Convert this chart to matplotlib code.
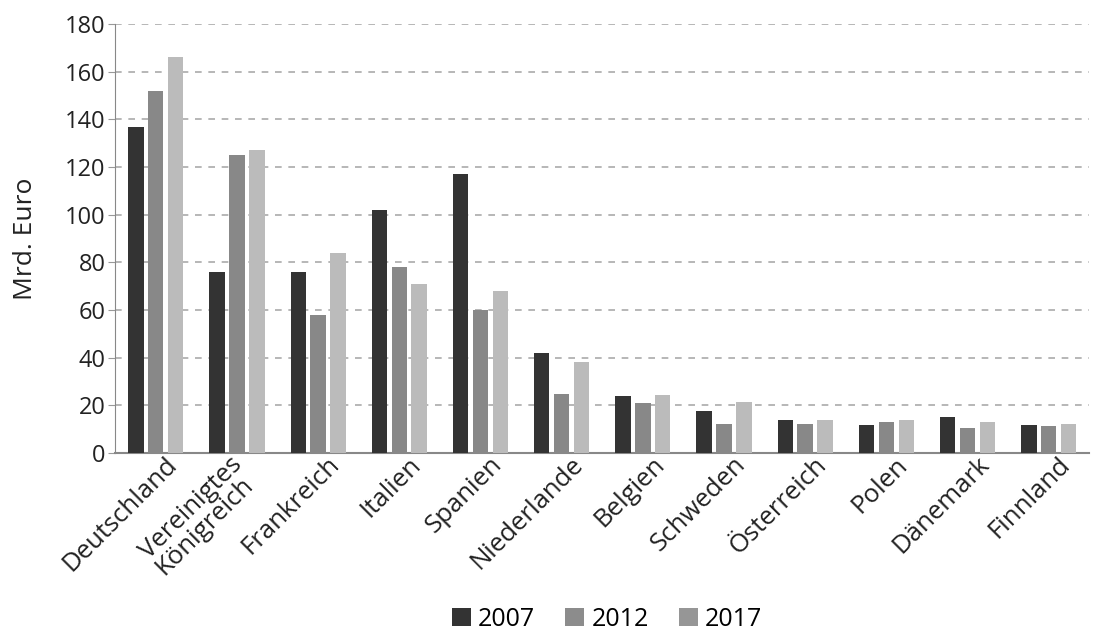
import matplotlib.pyplot as plt
import matplotlib.transforms as mtransforms
import numpy as np

plt.rcParams['font.family'] = ['Open Sans', 'DejaVu Sans']

# data
countries = ['Deutschland', 'Vereinigtes\nKönigreich', 'Frankreich', 'Italien', 'Spanien',
             'Niederlande', 'Belgien', 'Schweden', 'Österreich', 'Polen', 'Dänemark', 'Finnland']
years = ['2007', '2012', '2017']
v2007 = [137, 76, 76, 102, 117, 42, 24, 17.8, 14.1, 11.7, 15, 11.7]
v2012 = [152, 125, 58, 78, 60, 25, 21, 12.4, 12.2, 12.9, 10.6, 11.5]
v2017 = [166, 127, 84, 71, 68, 38.3, 24.2, 21.5, 14.1, 14.1, 13.1, 12.2]
colors = ['#333333', '#888888', '#bbbbbb']
legend_colors = ['#333333', '#8c8c8c', '#969696']

fig = plt.figure(figsize=(10.97, 6.32), dpi=100)
ax = fig.add_axes([0.105, 0.283, 0.888, 0.679])

x = np.arange(len(countries))
w = 0.19
bars = []
for i, vals in enumerate([v2007, v2012, v2017]):
    bars.append(ax.bar(x + (i - 1) * 0.245, vals, w, color=colors[i], zorder=3))

ax.set_ylim(0, 180)
ax.set_xlim(-0.5, len(countries) - 0.5)
ax.set_yticks(range(0, 181, 20))
ax.tick_params(axis='y', labelsize=17, length=5, color='#999999', labelcolor='#222222', pad=2)
ax.tick_params(axis='x', length=0, labelsize=18.5, labelcolor='#222222', pad=2)
ax.set_xticks(x)
ax.set_xticklabels(countries, rotation=45, ha='right', va='center', rotation_mode='anchor',
                   linespacing=0.85, multialignment='left')
for lbl in ax.get_xticklabels():
    dx, dy = 0.18, -0.05
    if '\n' in lbl.get_text():
        # two-line label sits a bit further down-left
        dx, dy = 0.095, -0.13
    lbl.set_transform(lbl.get_transform() +
                      mtransforms.ScaledTranslation(dx, dy, fig.dpi_scale_trans))
ax.set_ylabel('Mrd. Euro', fontsize=19, color='#222222', labelpad=19)

for y in range(20, 181, 20):
    ax.axhline(y, color='#aaaaaa', lw=1.2, ls=(0, (4, 4)), zorder=1)

for s in ['top', 'right']:
    ax.spines[s].set_visible(False)
ax.spines['left'].set_color('#888888')
ax.spines['bottom'].set_color('#888888')
ax.spines['bottom'].set_linewidth(1.5)

leg = ax.legend([b[0] for b in bars], years, loc='lower center',
                bbox_to_anchor=(0.505, -0.035), bbox_transform=mtransforms.blended_transform_factory(ax.transAxes, fig.transFigure),
                ncol=3, frameon=False, fontsize=18, handlelength=0.75, handleheight=0.75,
                handletextpad=0.3, columnspacing=1.2)
for patch, c in zip(leg.get_patches(), legend_colors):
    patch.set_facecolor(c)

plt.savefig('out.png', dpi=100)
